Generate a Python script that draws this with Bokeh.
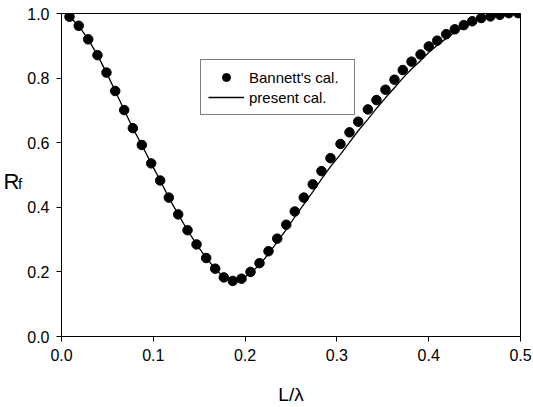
from bokeh.plotting import figure
from bokeh.models import Legend, LegendItem, PrintfTickFormatter, FixedTicker, LinearAxis
from bokeh.embed import file_html
from bokeh.resources import INLINE

# Bannett's calculation (dots)
bannett_x = [0.0087, 0.0188, 0.0291, 0.0392, 0.0490, 0.0585, 0.0683, 0.0777, 0.0875, 0.0977,
             0.1075, 0.1169, 0.1271, 0.1373, 0.1471, 0.1576, 0.1674, 0.1768, 0.1866, 0.1961,
             0.2059, 0.2157, 0.2255, 0.2350, 0.2448, 0.2541, 0.2639, 0.2737, 0.2832, 0.2930,
             0.3039, 0.3137, 0.3232, 0.3337, 0.3431, 0.3529, 0.3627, 0.3718, 0.3813, 0.3911,
             0.4001, 0.4093, 0.4191, 0.4284, 0.4382, 0.4474, 0.4572, 0.4673, 0.4775, 0.4873,
             0.4975]
bannett_y = [0.990, 0.962, 0.920, 0.871, 0.817, 0.760, 0.701, 0.645, 0.593, 0.536,
             0.483, 0.430, 0.378, 0.329, 0.285, 0.243, 0.210, 0.183, 0.172, 0.179,
             0.200, 0.227, 0.264, 0.303, 0.346, 0.387, 0.430, 0.471, 0.512, 0.552,
             0.596, 0.632, 0.665, 0.703, 0.732, 0.764, 0.795, 0.825, 0.851, 0.873,
             0.898, 0.916, 0.936, 0.951, 0.964, 0.976, 0.986, 0.991, 0.996, 1.001,
             1.001]

# present calculation (line)
present_x = bannett_x
present_y = [0.990, 0.962, 0.920, 0.871, 0.817, 0.760, 0.701, 0.645, 0.593, 0.536,
             0.483, 0.430, 0.378, 0.329, 0.285, 0.243, 0.210, 0.183, 0.172, 0.177,
             0.196, 0.222, 0.256, 0.293, 0.331, 0.370, 0.409, 0.448, 0.487, 0.526,
             0.564, 0.601, 0.637, 0.672, 0.706, 0.739, 0.770, 0.800, 0.828, 0.854,
             0.879, 0.902, 0.923, 0.942, 0.958, 0.972, 0.983, 0.991, 0.996, 0.999,
             1.000]

x_ticks = [0.0, 0.1, 0.2, 0.3, 0.4, 0.5]
y_ticks = [0.0, 0.2, 0.4, 0.6, 0.8, 1.0]

FONT = "Liberation Sans"

p = figure(width=533, height=407, x_range=(0, 0.5), y_range=(0, 1.0),
           output_backend="svg", toolbar_location=None,
           min_border_left=61, min_border_right=13, min_border_top=13, min_border_bottom=70)
p.background_fill_color = "white"
p.border_fill_color = "white"
p.outline_line_color = "black"
p.outline_line_width = 1
p.xgrid.visible = False
p.ygrid.visible = False

for ax in (p.xaxis[0], p.yaxis[0]):
    ax.major_tick_in = 0
    ax.major_tick_out = 5
    ax.minor_tick_line_color = None
    ax.axis_line_color = "black"
    ax.major_tick_line_color = "black"
    ax.major_label_text_font = FONT
    ax.major_label_text_font_size = "16px"
    ax.major_label_text_color = "black"
    ax.formatter = PrintfTickFormatter(format="%.1f")
    ax.major_label_standoff = 7

p.xaxis.ticker = FixedTicker(ticks=x_ticks)
p.yaxis.ticker = FixedTicker(ticks=y_ticks)

p.xaxis.axis_label = "L/λ"
p.xaxis.axis_label_text_font = FONT
p.xaxis.axis_label_text_font_size = "19px"
p.xaxis.axis_label_text_font_style = "normal"
p.xaxis.axis_label_text_color = "black"
p.xaxis.axis_label_standoff = 20

# y label "R" with subscript "f": the subscript sits on the inner axis,
# the capital R on an outer, otherwise invisible axis
yax = p.yaxis[0]
yax.axis_label = "\nf"
yax.axis_label_orientation = "horizontal"
yax.axis_label_text_font = FONT
yax.axis_label_text_font_size = "15px"
yax.axis_label_text_font_style = "normal"
yax.axis_label_text_color = "black"
yax.axis_label_text_line_height = 1.0
yax.axis_label_standoff = 2

r_axis = LinearAxis(ticker=FixedTicker(ticks=[]), axis_line_color=None,
                    major_tick_line_color=None, minor_tick_line_color=None,
                    major_label_text_font_size="0px", major_tick_in=0, major_tick_out=0,
                    major_label_standoff=0)
r_axis.axis_label = "\nR"
r_axis.axis_label_orientation = "horizontal"
r_axis.axis_label_text_font = FONT
r_axis.axis_label_text_font_size = "22px"
r_axis.axis_label_text_font_style = "normal"
r_axis.axis_label_text_color = "black"
r_axis.axis_label_text_line_height = 0.5
r_axis.axis_label_standoff = -4
p.add_layout(r_axis, "left")

line_r = p.line(present_x, present_y, line_color="black", line_width=1.3)
dots_r = p.scatter(bannett_x, bannett_y, size=9.5, marker="circle",
                   fill_color="black", line_color="black")

legend = Legend(items=[LegendItem(label="Bannett's cal.", renderers=[dots_r]),
                       LegendItem(label="present cal.", renderers=[line_r])],
                location=(139, 221))
legend.label_text_font = FONT
legend.label_text_font_size = "15px"
legend.label_text_color = "black"
legend.border_line_color = "black"
legend.border_line_width = 1
legend.background_fill_alpha = 1
legend.glyph_width = 36
legend.glyph_height = 20
legend.label_height = 20
legend.label_width = 98
legend.label_standoff = 5
legend.padding = 7
legend.spacing = 0
legend.margin = 0
p.add_layout(legend, "center")

open("out.html", "w").write(file_html(p, INLINE))
